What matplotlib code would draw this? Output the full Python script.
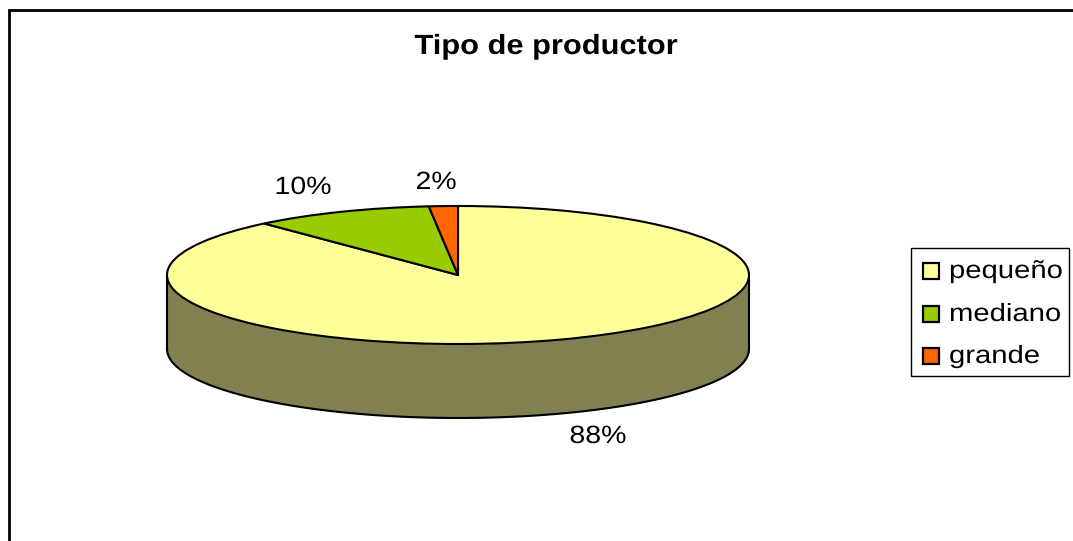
import numpy as np
import matplotlib
matplotlib.use("Agg")
import matplotlib.pyplot as plt
from matplotlib.patches import Rectangle
from matplotlib.patheffects import AbstractPathEffect
from matplotlib.transforms import Affine2D

plt.rcParams['font.family'] = ['Liberation Sans', 'DejaVu Sans']

W, H = 1073, 541

titulo = "Tipo de productor"
categorias = ["pequeño", "mediano", "grande"]
valores = [88.4, 10.0, 1.6]
etiquetas = ["88%", "10%", "2%"]
colores = ["#FFFF99", "#99CC00", "#FF6600"]
color_lado = "#808050"


# el texto del original esta estirado a lo ancho
class Ancho(AbstractPathEffect):
    def __init__(self, factor, x_px):
        super().__init__()
        self.factor = factor
        self.x_px = x_px

    def draw_path(self, renderer, gc, tpath, affine, rgbFace=None):
        estira = Affine2D().translate(-self.x_px, 0).scale(self.factor, 1).translate(self.x_px, 0)
        renderer.draw_path(gc, tpath, affine + estira, rgbFace)


def texto(px, py, s, factor, ha="center", **kw):
    fig.text(px / W, 1 - py / H, s, ha=ha, va="center", color="black",
             path_effects=[Ancho(factor, px)], **kw)


fig = plt.figure(figsize=(W / 100, H / 100), dpi=100)
fig.patch.set_facecolor("white")

# marco del grafico (solo arriba e izquierda, el resto queda cortado)
fig.add_artist(plt.Line2D([9 / W, 9 / W], [0, 1 - 8.6 / H], color="black", lw=2, solid_capstyle="butt"))
fig.add_artist(plt.Line2D([7.6 / W, 1], [1 - 10 / H, 1 - 10 / H], color="black", lw=2, solid_capstyle="butt"))

# ejes ajustados a la elipse de arriba: radio 1 = 291 x 69 px
x0, x1, y_top, y_bot = 167, 749, 206, 344
ax = fig.add_axes([x0 / W, 1 - y_bot / H, (x1 - x0) / W, (y_bot - y_top) / H])

prof = 74 / 69  # grosor del disco en unidades del eje

# lado del cilindro
t = np.linspace(np.pi, 2 * np.pi, 300)
xs = np.cos(t)
ys = np.sin(t)
ax.fill_between(xs, ys, ys - prof, color=color_lado, clip_on=False, lw=0, zorder=1)
ax.plot(xs, ys - prof, color="black", lw=1.5, clip_on=False, zorder=2)
ax.plot([-1, -1], [0, -prof], color="black", lw=1.5, clip_on=False, zorder=2)
ax.plot([1, 1], [0, -prof], color="black", lw=1.5, clip_on=False, zorder=2)

wedges, _ = ax.pie(valores, colors=colores, startangle=90, counterclock=False,
                   radius=1, wedgeprops={"edgecolor": "black", "linewidth": 1.5,
                                         "clip_on": False, "zorder": 3})
ax.set_aspect("auto")
ax.set_xlim(-1, 1)
ax.set_ylim(-1, 1)
ax.set_axis_off()

# etiquetas de porcentaje
pos_etiquetas = [(598, 436), (303, 187), (436, 182)]
for e, (px, py) in zip(etiquetas, pos_etiquetas):
    texto(px, py, e, 1.14, fontsize=18)

texto(546, 47, titulo, 1.11, fontsize=20, fontweight="bold")

# leyenda hecha a mano para calzar con la original
fig.add_artist(Rectangle((911 / W, 1 - 376 / H), 158 / W, 128 / H, transform=fig.transFigure,
                         facecolor="white", edgecolor="black", lw=1))
filas = [271, 314, 356]
for nombre, color, py in zip(categorias, colores, filas):
    fig.add_artist(Rectangle((923 / W, 1 - (py + 8) / H), 16 / W, 16 / H, transform=fig.transFigure,
                             facecolor=color, edgecolor="black", lw=1.6))
    texto(949, py, nombre, 1.17, ha="left", fontsize=18)

fig.savefig("out.png", dpi=100)
